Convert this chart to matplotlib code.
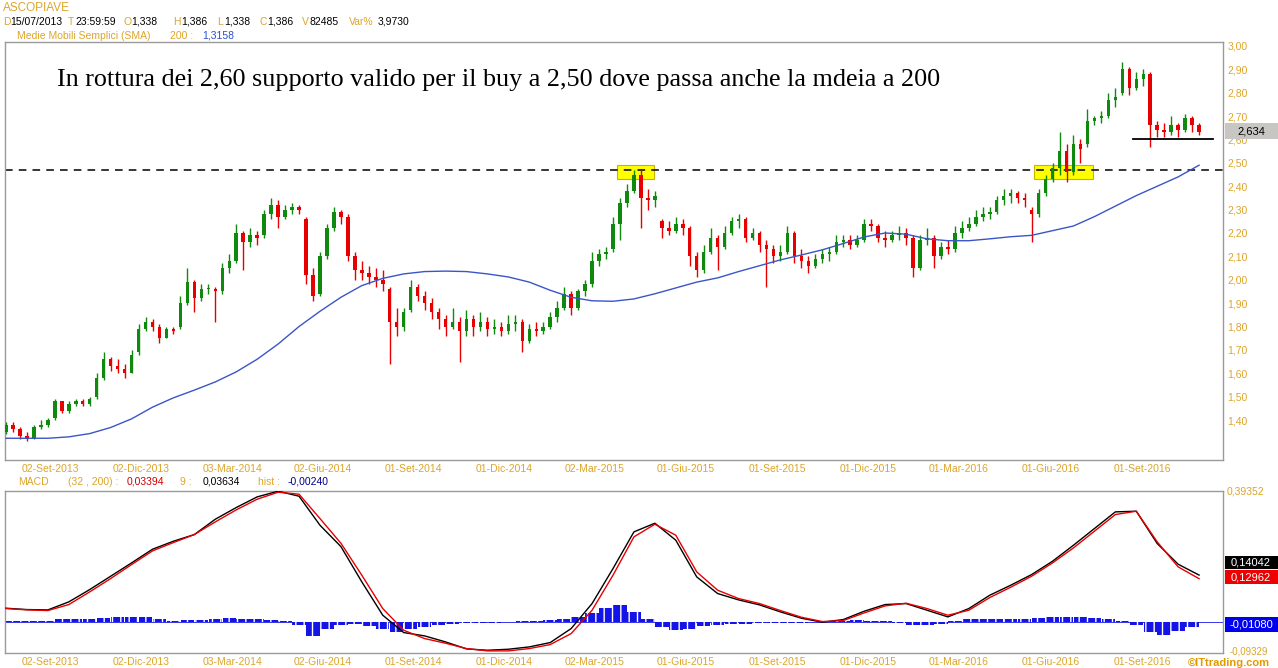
import matplotlib
matplotlib.use('Agg')
import matplotlib.pyplot as plt
import matplotlib.dates as mdates
from matplotlib.patches import Rectangle
import numpy as np
import pandas as pd

# weekly candles (ASCOPIAVE, lug 2013 - ott 2016)
opens = [1.35, 1.38, 1.36, 1.33, 1.32, 1.37, 1.38, 1.41, 1.48, 1.44,
         1.47, 1.48, 1.47, 1.50, 1.58, 1.66, 1.63, 1.62, 1.60, 1.69,
         1.79, 1.82, 1.80, 1.75, 1.79, 1.80, 1.90, 1.99, 1.92, 1.96,
         1.96, 1.95, 2.05, 2.08, 2.20, 2.16, 2.19, 2.19, 2.28, 2.32,
         2.27, 2.30, 2.31, 2.26, 2.02, 1.94, 2.10, 2.22, 2.29, 2.27,
         2.10, 2.04, 2.03, 2.01, 2.00, 1.96, 1.82, 1.80, 1.87, 1.97,
         1.93, 1.90, 1.86, 1.83, 1.80, 1.82, 1.78, 1.83, 1.80, 1.82,
         1.79, 1.80, 1.78, 1.81, 1.82, 1.74, 1.79, 1.78, 1.80, 1.84,
         1.88, 1.94, 1.88, 1.95, 1.98, 2.08, 2.11, 2.13, 2.24, 2.33,
         2.38, 2.45, 2.35, 2.34, 2.25, 2.22, 2.21, 2.24, 2.22, 2.10,
         2.04, 2.12, 2.18, 2.14, 2.20, 2.25, 2.26, 2.18, 2.20, 2.15,
         2.13, 2.10, 2.12, 2.20, 2.10, 2.08, 2.06, 2.09, 2.11, 2.12,
         2.16, 2.17, 2.15, 2.17, 2.24, 2.23, 2.18, 2.17, 2.19, 2.20,
         2.18, 2.05, 2.17, 2.18, 2.10, 2.14, 2.13, 2.20, 2.22, 2.24,
         2.27, 2.28, 2.29, 2.34, 2.36, 2.37, 2.35, 2.30, 2.28, 2.37,
         2.43, 2.48, 2.55, 2.46, 2.58, 2.58, 2.68, 2.69, 2.70, 2.77,
         2.80, 2.90, 2.82, 2.86, 2.88, 2.66, 2.64, 2.63, 2.66, 2.64,
         2.69, 2.66]
highs = [1.39, 1.39, 1.37, 1.35, 1.38, 1.40, 1.41, 1.49, 1.48, 1.48,
         1.49, 1.49, 1.50, 1.60, 1.69, 1.67, 1.66, 1.64, 1.70, 1.81,
         1.84, 1.83, 1.81, 1.80, 1.80, 1.93, 2.05, 2.00, 1.98, 1.98,
         1.97, 2.07, 2.11, 2.24, 2.21, 2.22, 2.21, 2.30, 2.35, 2.34,
         2.32, 2.33, 2.32, 2.27, 2.05, 2.12, 2.24, 2.31, 2.30, 2.28,
         2.12, 2.08, 2.06, 2.05, 2.04, 1.97, 1.88, 1.88, 2.00, 1.98,
         1.95, 1.92, 1.88, 1.85, 1.88, 1.84, 1.87, 1.85, 1.86, 1.84,
         1.83, 1.82, 1.85, 1.85, 1.83, 1.81, 1.82, 1.82, 1.86, 1.91,
         1.97, 1.95, 1.96, 2.00, 2.12, 2.13, 2.14, 2.27, 2.35, 2.41,
         2.47, 2.47, 2.39, 2.38, 2.26, 2.25, 2.27, 2.26, 2.23, 2.12,
         2.15, 2.22, 2.19, 2.23, 2.27, 2.28, 2.27, 2.22, 2.21, 2.17,
         2.15, 2.15, 2.23, 2.21, 2.13, 2.10, 2.11, 2.13, 2.14, 2.19,
         2.19, 2.19, 2.19, 2.26, 2.26, 2.24, 2.21, 2.21, 2.23, 2.22,
         2.19, 2.19, 2.22, 2.19, 2.16, 2.17, 2.23, 2.25, 2.27, 2.30,
         2.31, 2.31, 2.36, 2.39, 2.39, 2.38, 2.37, 2.31, 2.39, 2.45,
         2.50, 2.63, 2.58, 2.62, 2.60, 2.73, 2.70, 2.72, 2.80, 2.82,
         2.93, 2.91, 2.89, 2.90, 2.89, 2.68, 2.67, 2.70, 2.67, 2.71,
         2.70, 2.67]
lows = [1.34, 1.35, 1.32, 1.31, 1.32, 1.36, 1.37, 1.40, 1.43, 1.43,
        1.46, 1.46, 1.46, 1.49, 1.57, 1.61, 1.60, 1.58, 1.60, 1.68,
        1.78, 1.78, 1.73, 1.75, 1.77, 1.79, 1.89, 1.86, 1.91, 1.94,
        1.82, 1.94, 2.03, 2.07, 2.04, 2.14, 2.15, 2.18, 2.26, 2.22,
        2.26, 2.28, 2.28, 1.98, 1.91, 1.93, 2.09, 2.21, 2.24, 2.08,
        2.00, 2.00, 1.98, 1.97, 1.95, 1.64, 1.76, 1.78, 1.86, 1.91,
        1.87, 1.83, 1.79, 1.76, 1.79, 1.65, 1.76, 1.76, 1.78, 1.76,
        1.77, 1.76, 1.77, 1.78, 1.69, 1.73, 1.76, 1.77, 1.79, 1.82,
        1.87, 1.85, 1.87, 1.93, 1.97, 2.06, 2.09, 2.12, 2.17, 2.31,
        2.37, 2.22, 2.30, 2.31, 2.18, 2.19, 2.20, 2.19, 2.06, 2.01,
        2.03, 2.11, 2.04, 2.13, 2.19, 2.22, 2.16, 2.17, 2.12, 1.97,
        2.07, 2.08, 2.11, 2.07, 2.05, 2.03, 2.05, 2.07, 2.08, 2.11,
        2.14, 2.13, 2.14, 2.16, 2.21, 2.16, 2.14, 2.16, 2.17, 2.15,
        2.01, 2.04, 2.15, 2.05, 2.09, 2.11, 2.12, 2.18, 2.21, 2.23,
        2.25, 2.26, 2.28, 2.32, 2.33, 2.33, 2.31, 2.16, 2.27, 2.36,
        2.42, 2.45, 2.42, 2.45, 2.50, 2.57, 2.66, 2.67, 2.69, 2.74,
        2.79, 2.79, 2.81, 2.83, 2.57, 2.61, 2.61, 2.62, 2.61, 2.63,
        2.63, 2.62]
closes = [1.38, 1.36, 1.33, 1.32, 1.37, 1.38, 1.40, 1.48, 1.44, 1.47,
          1.48, 1.47, 1.49, 1.58, 1.66, 1.63, 1.62, 1.60, 1.68, 1.79,
          1.82, 1.80, 1.75, 1.79, 1.78, 1.90, 1.99, 1.92, 1.96, 1.96,
          1.95, 2.05, 2.08, 2.20, 2.16, 2.19, 2.18, 2.28, 2.32, 2.27,
          2.30, 2.31, 2.30, 2.02, 1.93, 2.10, 2.22, 2.29, 2.27, 2.10,
          2.04, 2.03, 2.01, 2.00, 1.98, 1.82, 1.80, 1.86, 1.97, 1.93,
          1.90, 1.86, 1.83, 1.80, 1.82, 1.78, 1.83, 1.80, 1.82, 1.79,
          1.80, 1.78, 1.81, 1.82, 1.74, 1.79, 1.78, 1.80, 1.84, 1.88,
          1.94, 1.88, 1.95, 1.98, 2.08, 2.11, 2.12, 2.24, 2.33, 2.38,
          2.45, 2.35, 2.34, 2.36, 2.22, 2.21, 2.24, 2.22, 2.10, 2.04,
          2.12, 2.18, 2.14, 2.20, 2.25, 2.26, 2.18, 2.20, 2.15, 2.13,
          2.10, 2.12, 2.20, 2.10, 2.08, 2.06, 2.09, 2.11, 2.12, 2.16,
          2.17, 2.15, 2.17, 2.24, 2.23, 2.18, 2.17, 2.19, 2.20, 2.18,
          2.05, 2.17, 2.18, 2.10, 2.14, 2.13, 2.20, 2.22, 2.24, 2.27,
          2.28, 2.29, 2.34, 2.36, 2.37, 2.35, 2.34, 2.28, 2.37, 2.43,
          2.48, 2.55, 2.46, 2.58, 2.56, 2.68, 2.69, 2.70, 2.77, 2.78,
          2.90, 2.82, 2.86, 2.88, 2.66, 2.64, 2.63, 2.66, 2.64, 2.69,
          2.66, 2.634]

# media mobile 200, un valore ogni 3 settimane
sma200 = [1.322, 1.322, 1.322, 1.328, 1.342, 1.368, 1.405, 1.455, 1.495, 1.528,
          1.563, 1.606, 1.660, 1.725, 1.800, 1.865, 1.925, 1.975, 2.006, 2.025,
          2.035, 2.037, 2.035, 2.025, 2.012, 1.990, 1.955, 1.925, 1.910, 1.908,
          1.918, 1.940, 1.965, 1.990, 2.008, 2.035, 2.060, 2.085, 2.106, 2.128,
          2.155, 2.183, 2.200, 2.195, 2.175, 2.167, 2.167, 2.175, 2.184, 2.190,
          2.210, 2.230, 2.270, 2.315, 2.360, 2.400, 2.440, 2.490]

# MACD (32,200) e segnale 9, ogni 3 settimane
macd_line = [0.041, 0.037, 0.036, 0.060, 0.097, 0.137, 0.177, 0.218, 0.242, 0.262,
             0.308, 0.343, 0.375, 0.392, 0.377, 0.290, 0.226, 0.120, 0.020, -0.032,
             -0.042, -0.060, -0.081, -0.085, -0.082, -0.075, -0.062, -0.020, 0.055, 0.160,
             0.270, 0.296, 0.245, 0.135, 0.085, 0.066, 0.051, 0.030, 0.011, -0.001,
             0.007, 0.032, 0.052, 0.055, 0.035, 0.015, 0.040, 0.080, 0.110, 0.142,
             0.182, 0.230, 0.280, 0.330, 0.332, 0.235, 0.173, 0.14042]
signal_line = [0.040, 0.036, 0.034, 0.052, 0.090, 0.130, 0.172, 0.213, 0.238, 0.262,
               0.300, 0.336, 0.368, 0.389, 0.383, 0.310, 0.236, 0.140, 0.040, -0.025,
               -0.050, -0.064, -0.080, -0.087, -0.087, -0.080, -0.068, -0.035, 0.035, 0.140,
               0.255, 0.293, 0.260, 0.150, 0.095, 0.070, 0.055, 0.034, 0.014, 0.001,
               0.004, 0.027, 0.048, 0.056, 0.040, 0.020, 0.035, 0.073, 0.104, 0.137,
               0.177, 0.222, 0.272, 0.322, 0.332, 0.240, 0.165, 0.12962]
# istogramma, ogni 2 settimane
hist = [0.004, 0.003, 0.002, 0.004, 0.008, 0.009, 0.010, 0.012, 0.015, 0.016,
        0.014, 0.008, 0.004, 0.005, 0.006, 0.010, 0.012, 0.010, 0.008, 0.006,
        0.002, -0.010, -0.042, -0.022, -0.008, -0.006, -0.012, -0.020, -0.030, -0.022,
        -0.014, -0.008, -0.006, -0.004, -0.003, -0.002, 0.001, 0.002, 0.004, 0.006,
        0.010, 0.016, 0.028, 0.042, 0.052, 0.030, 0.008, -0.015, -0.024, -0.020,
        -0.012, -0.008, -0.006, -0.005, -0.004, -0.004, -0.003, -0.003, -0.001, 0.002,
        0.004, 0.005, 0.004, 0.002, -0.003, -0.008, -0.010, -0.006, 0.004, 0.008,
        0.009, 0.008, 0.008, 0.010, 0.012, 0.014, 0.015, 0.014, 0.012, 0.008,
        0.003, -0.008, -0.030, -0.038, -0.028, -0.015]

tick_dates = ['2013-09-02', '2013-12-02', '2014-03-03', '2014-06-02', '2014-09-01',
              '2014-12-01', '2015-03-02', '2015-06-01', '2015-09-01', '2015-12-01',
              '2016-03-01', '2016-06-01', '2016-09-01']
tick_labels = ['02-Set-2013', '02-Dic-2013', '03-Mar-2014', '02-Giu-2014', '01-Set-2014',
               '01-Dic-2014', '02-Mar-2015', '01-Giu-2015', '01-Set-2015', '01-Dic-2015',
               '01-Mar-2016', '01-Giu-2016', '01-Set-2016']
price_ticks = [1.4, 1.5, 1.6, 1.7, 1.8, 1.9, 2.0, 2.1, 2.2, 2.3, 2.4, 2.5, 2.6, 2.7, 2.8, 2.9, 3.0]

GOLD = '#dca52a'
GREEN = '#0f8a0f'
RED = '#e80000'
GRAY = '#9a9a9a'
W, H = 1278, 668

plt.rcParams['font.family'] = ['Liberation Sans', 'DejaVu Sans']
plt.rcParams['hatch.linewidth'] = 1.0

o = np.array(opens); h = np.array(highs); l = np.array(lows); c = np.array(closes)
xd = mdates.date2num(pd.date_range('2013-07-19', periods=len(c), freq='7D'))
xs = mdates.date2num(pd.date_range('2013-07-19', periods=len(sma200), freq='21D'))
xh = mdates.date2num(pd.date_range('2013-07-19', periods=len(hist), freq='14D'))
xlim = (mdates.datestr2num('2013-07-18'), mdates.datestr2num('2016-11-21'))
tx = [mdates.datestr2num(d) for d in tick_dates]

fig = plt.figure(figsize=(W / 100, H / 100), dpi=100)
ax = fig.add_axes([5 / W, 1 - 460 / H, 1218 / W, 418 / H])
ax2 = fig.add_axes([5 / W, 1 - 653 / H, 1218 / W, 162.3 / H])

# --- prezzo ---
up = c >= o
col = np.where(up, GREEN, RED)
ax.add_patch(Rectangle((mdates.datestr2num('2015-03-24'), 2.432), 37, 0.057,
                       fc='#ffff00', ec='#c9b200', lw=0.8, zorder=1))
ax.add_patch(Rectangle((mdates.datestr2num('2016-05-15'), 2.430), 60, 0.061,
                       fc='#ffff00', ec='#c9b200', lw=0.8, zorder=1))
ax.axhline(2.47, color='black', lw=1.1, ls=(0, (5, 4)), zorder=2)
ax.vlines(xd, l, h, colors=col, lw=1, zorder=3)
body = np.maximum(np.abs(c - o), 0.004)
ax.bar(xd, body, bottom=np.minimum(o, c), width=3.5, color=col, zorder=3)
ax.plot(xs, sma200, color='#3a55c8', lw=1, zorder=4)
ax.plot([mdates.datestr2num('2016-08-23'), mdates.datestr2num('2016-11-11')], [2.60, 2.60],
        color='black', lw=1.3, zorder=5)

ax.set_xlim(xlim)
ax.set_ylim(1.229, 3.017)
ax.yaxis.tick_right()
ax.set_yticks(price_ticks)
ax.set_yticklabels([('%.2f' % v).replace('.', ',') for v in price_ticks])
ax.tick_params(axis='y', length=0, pad=3, labelsize=7.5, labelcolor=GOLD)
ax.set_xticks(tx)
ax.set_xticklabels(tick_labels)
ax.tick_params(axis='x', length=0, pad=3, labelsize=7.5, labelcolor=GOLD)

fig.text(57 / W, 1 - 80 / H,
         'In rottura dei 2,60 supporto valido per il buy a 2,50 dove passa anche la mdeia a 200',
         family='Liberation Serif', fontsize=18.8, va='center', ha='left')

# --- MACD ---
ax2.bar(xh, hist, width=13.5, color='#1414e6', edgecolor='white', linewidth=0,
        hatch='||', zorder=2)
ax2.axhline(0, color='#1414e6', lw=0.6, zorder=1)
ax2.plot(xs, macd_line, color='black', lw=1, zorder=3)
ax2.plot(xs, signal_line, color=RED, lw=1, zorder=3)
ax2.set_xlim(xlim)
ax2.set_ylim(-0.09329, 0.39352)
ax2.set_yticks([])
ax2.set_xticks(tx)
ax2.set_xticklabels(tick_labels)
ax2.tick_params(axis='x', length=0, pad=3, labelsize=7.5, labelcolor=GOLD)

for a in (ax, ax2):
    for s in a.spines.values():
        s.set_color(GRAY)
        s.set_linewidth(1)

# --- intestazioni ---
def ftext(x, y, s, color='black', size=8, **kw):
    return fig.text(x / W, 1 - y / H, s, color=color, fontsize=size, va='center', ha='left', **kw)

ftext(3, 8, 'ASCOPIAVE', GOLD, 8.5)
parts = [(3, 'D', GOLD), (10, '15/07/2013', 'black'), (68, 'T', GOLD), (75, '23:59:59', 'black'),
         (123, 'O', GOLD), (131, '1,338', 'black'), (173, 'H', GOLD), (181, '1,386', 'black'),
         (217, 'L', GOLD), (224, '1,338', 'black'), (259, 'C', GOLD), (267, '1,386', 'black'),
         (302, 'V', GOLD), (310, '82485', 'black'), (349, 'Var%', GOLD), (378, '3,9730', 'black')]
for px, s, cc in parts:
    ftext(px, 22, s, cc, 7.5)
ftext(17, 36, 'Medie Mobili Semplici (SMA)', GOLD, 7.5)
ftext(170, 36, '200 :', GOLD, 7.5)
ftext(202, 36, '1,3158', '#2a4fd0', 7.5)

mparts = [(18, 'MACD', GOLD), (68, '(32 , 200) :', GOLD), (127, '0,03394', '#d00000'),
          (180, '9 :', GOLD), (203, '0,03634', 'black'), (258, 'hist :', GOLD),
          (288, '-0,00240', '#000090')]
for px, s, cc in mparts:
    ftext(px, 482, s, cc, 7.5)

# etichette a destra
def value_box(y0, y1, s, fc, tc):
    fig.patches.append(Rectangle((1225 / W, 1 - y1 / H), 53 / W, (y1 - y0) / H,
                                 transform=fig.transFigure, fc=fc, ec='none', zorder=5))
    fig.text(1251 / W, 1 - (y0 + y1) / 2 / H, s, color=tc, fontsize=8,
             ha='center', va='center', zorder=6)

value_box(123, 139, '2,634', '#c8c6c2', 'black')
value_box(556, 569, '0,14042', 'black', 'white')
value_box(570, 584, '0,12962', '#ee0000', 'white')
value_box(617, 632, '-0,01080', '#0000ee', 'white')
ftext(1227, 491, '0,39352', GOLD, 7.5)
ftext(1230, 651, '-0,09329', GOLD, 7)
ftext(1188, 663, '\u00a9ITtrading.com', '#e39a00', 8, weight='bold')

fig.savefig('out.png', dpi=100, facecolor='white')
